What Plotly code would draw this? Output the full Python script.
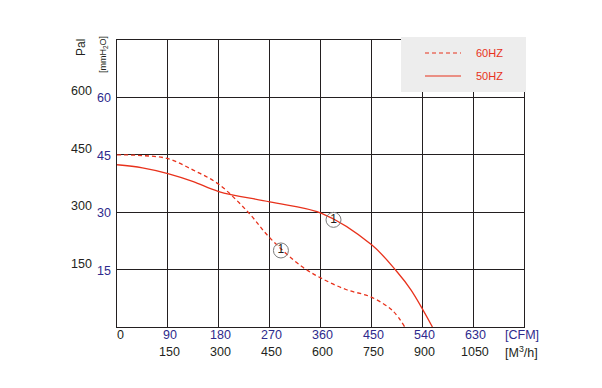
import plotly.graph_objects as go

# ---- data ----
cfm_60 = [0, 45, 90, 135, 180, 232, 271, 327, 362, 405, 450, 488, 509]
mm_60 = [45, 44.8, 44.0, 41.0, 37.3, 30.0, 23.2, 15.8, 12.7, 9.8, 7.8, 4.2, 0]

cfm_50 = [0, 45, 90, 135, 180, 270, 362, 451, 495, 520, 558]
mm_50 = [42.4, 41.6, 40.1, 38.0, 35.4, 32.7, 29.7, 21.4, 14.5, 9.7, 0]

point_cfm = [290, 383]
point_mm = [20.0, 28.0]
point_text = ["1", "1"]

cfm_ticks = [90, 180, 270, 360, 450, 540, 630]
m3h_ticks = ["150", "300", "450", "600", "750", "900", "1050"]
mm_ticks = [15, 30, 45, 60]
pa_ticks = ["150", "300", "450", "600"]

RED = "#e8321c"
BLUE = "#2e2a8c"
BLACK = "#231f20"
FONT = "Liberation Sans, Arial, sans-serif"
FS = 12.5

fig = go.Figure()
fig.add_trace(go.Scatter(x=cfm_60, y=mm_60, mode="lines",
                         line=dict(color=RED, width=1.3, dash="4px,3px", shape="spline", smoothing=1.0),
                         name="60HZ", showlegend=False, hoverinfo="skip"))
fig.add_trace(go.Scatter(x=cfm_50, y=mm_50, mode="lines",
                         line=dict(color=RED, width=1.3, shape="spline", smoothing=1.0),
                         name="50HZ", showlegend=False, hoverinfo="skip"))
fig.add_trace(go.Scatter(x=point_cfm, y=point_mm, mode="markers+text", text=point_text,
                         textposition="middle center", textfont=dict(family=FONT, size=12, color=BLACK),
                         marker=dict(symbol="circle-open", size=15, color="#7a7a7a",
                                     line=dict(width=1, color="#7a7a7a")),
                         showlegend=False, hoverinfo="skip"))

annotations = []
for v, t in zip(mm_ticks, pa_ticks):
    annotations.append(dict(x=0, y=v, xref="paper", yref="y", text=str(v), showarrow=False,
                            xanchor="right", yanchor="middle", xshift=-4, yshift=-1,
                            font=dict(family=FONT, size=FS, color=BLUE)))
    annotations.append(dict(x=0, y=v, xref="paper", yref="y", text=t, showarrow=False,
                            xanchor="right", yanchor="middle", xshift=-23, yshift=6,
                            font=dict(family=FONT, size=FS, color=BLACK)))
annotations.append(dict(x=0, y=0, xref="x", yref="paper", text="0", showarrow=False,
                        xanchor="center", yanchor="middle", xshift=3, yshift=-8,
                        font=dict(family=FONT, size=FS, color=BLACK)))
for v, t in zip(cfm_ticks, m3h_ticks):
    annotations.append(dict(x=v, y=0, xref="x", yref="paper", text=str(v), showarrow=False,
                            xanchor="center", yanchor="middle", xshift=2, yshift=-8,
                            font=dict(family=FONT, size=FS, color=BLUE)))
    annotations.append(dict(x=v, y=0, xref="x", yref="paper", text=t, showarrow=False,
                            xanchor="center", yanchor="middle", xshift=2, yshift=-25,
                            font=dict(family=FONT, size=FS, color=BLACK)))
annotations.append(dict(x=683, y=0, xref="x", yref="paper", text="[CFM]", showarrow=False,
                        xanchor="left", yanchor="middle", yshift=-8,
                        font=dict(family=FONT, size=FS, color=BLUE)))
annotations.append(dict(x=683, y=0, xref="x", yref="paper", text="[M<sup>3</sup>/h]", showarrow=False,
                        xanchor="left", yanchor="middle", yshift=-25,
                        font=dict(family=FONT, size=FS, color=BLACK)))
# axis titles
annotations.append(dict(x=(81 - 117) / 407, y=(327 - 48) / 287, xref="paper", yref="paper", text="Pal",
                        showarrow=False, textangle=-90, xanchor="center", yanchor="middle",
                        font=dict(family=FONT, size=12, color=BLACK)))
annotations.append(dict(x=(103 - 117) / 407, y=(327 - 55) / 287, xref="paper", yref="paper",
                        text="[mmH<sub>2</sub>O]", showarrow=False, textangle=-90, xanchor="center",
                        yanchor="middle", font=dict(family=FONT, size=9, color=BLACK)))
# legend texts
annotations.append(dict(x=(474 - 117) / 407, y=(327 - 53) / 287, xref="paper", yref="paper", text="60HZ",
                        showarrow=False, xanchor="left", yanchor="middle",
                        font=dict(family=FONT, size=11, color=RED)))
annotations.append(dict(x=(474 - 117) / 407, y=(327 - 76) / 287, xref="paper", yref="paper", text="50HZ",
                        showarrow=False, xanchor="left", yanchor="middle",
                        font=dict(family=FONT, size=11, color=RED)))

shapes = [
    dict(type="rect", xref="paper", yref="paper", x0=(401 - 117) / 407, x1=(526 - 117) / 407,
         y0=(327 - 92) / 287, y1=(327 - 37) / 287, fillcolor="#ededed", line=dict(width=0), layer="above"),
    dict(type="line", xref="paper", yref="paper", x0=(425 - 117) / 407, x1=(461 - 117) / 407,
         y0=(327 - 53) / 287, y1=(327 - 53) / 287, line=dict(color=RED, width=1.2, dash="4px,3px"), layer="above"),
    dict(type="line", xref="paper", yref="paper", x0=(425 - 117) / 407, x1=(461 - 117) / 407,
         y0=(327 - 76) / 287, y1=(327 - 76) / 287, line=dict(color=RED, width=1.2), layer="above"),
]

# page body adds an 8px offset; the figure is sized so the plot lands at 117..524 x 40..327
fig.update_layout(
    width=594, height=380,
    margin=dict(l=109, r=78, t=32, b=61),
    paper_bgcolor="white", plot_bgcolor="white",
    showlegend=False,
    annotations=annotations, shapes=shapes,
    xaxis=dict(range=[0, 720], dtick=90, tick0=0, showgrid=True, gridcolor=BLACK, gridwidth=1,
               showline=True, linecolor=BLACK, linewidth=1, mirror=True, zeroline=False,
               showticklabels=False, ticks=""),
    yaxis=dict(range=[0, 75], dtick=15, tick0=0, showgrid=True, gridcolor=BLACK, gridwidth=1,
               showline=True, linecolor=BLACK, linewidth=1, mirror=True, zeroline=False,
               showticklabels=False, ticks=""),
)

fig.write_html("out.html")
